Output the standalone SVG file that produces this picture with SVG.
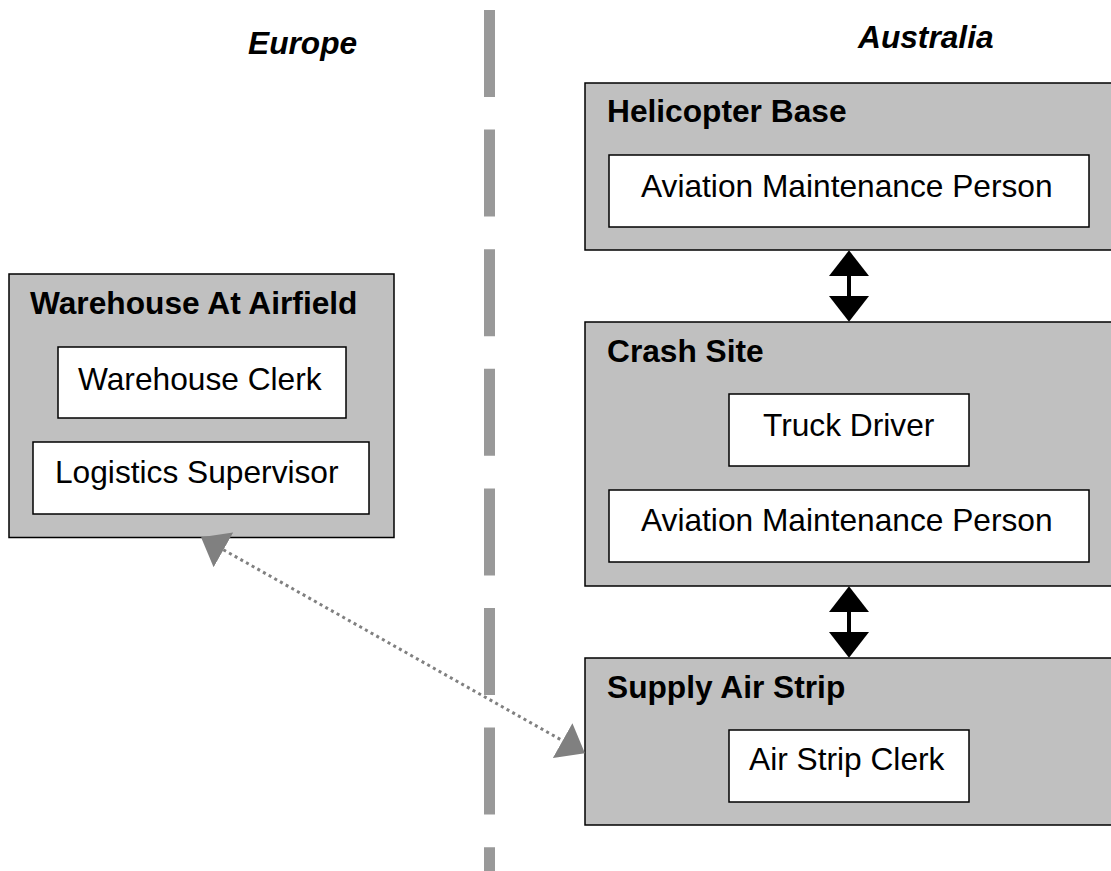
<svg xmlns="http://www.w3.org/2000/svg" width="1111" height="871" viewBox="0 0 1111 871">
  <style>
    text { font-family: "Liberation Sans", Arial, sans-serif; font-size: 31.7px; fill: #000; }
    .title { font-weight: bold; }
    .region { font-weight: bold; font-style: italic; }
    .site { fill: #c0c0c0; stroke: #000; stroke-width: 1.5; }
    .role { fill: #fff; stroke: #000; stroke-width: 1.5; }
    .divider { stroke: #999; stroke-width: 11; stroke-dasharray: 87 32.6; fill: none; }
    .link { stroke: #000; stroke-width: 4; fill: none; }
    .remote { stroke: #808080; stroke-width: 3; stroke-dasharray: 3 3.5; fill: none; }
  </style>
  <defs>
    <marker id="headBlack" markerUnits="userSpaceOnUse" markerWidth="26" markerHeight="40" viewBox="0 0 25 39" refX="0" refY="19.5" orient="auto-start-reverse">
      <path d="M0,0 L25,19.5 L0,39 z" fill="#000"/>
    </marker>
    <marker id="headGrey" markerUnits="userSpaceOnUse" markerWidth="26" markerHeight="40" viewBox="0 0 25 39" refX="0" refY="19.5" orient="auto-start-reverse">
      <path d="M0,0 L25,19.5 L0,39 z" fill="#808080"/>
    </marker>
  </defs>

  <rect width="1111" height="871" fill="#fff"/>

  <!-- region divider and labels -->
  <line class="divider" x1="489.5" y1="10" x2="489.5" y2="871"/>
  <text class="region" x="248" y="54">Europe</text>
  <text class="region" x="858" y="48">Australia</text>

  <g id="warehouse">
    <rect class="site" x="9" y="274" width="385" height="263.5"/>
    <text class="title" x="30" y="314">Warehouse At Airfield</text>
    <g id="warehouse-clerk">
      <rect class="role" x="58" y="347" width="288" height="71"/>
      <text x="78" y="390">Warehouse Clerk</text>
    </g>
    <g id="logistics-supervisor">
      <rect class="role" x="33" y="442" width="336" height="72"/>
      <text x="55" y="483">Logistics Supervisor</text>
    </g>
  </g>

  <g id="helicopter-base">
    <rect class="site" x="585" y="83" width="540" height="167"/>
    <text class="title" x="607" y="122">Helicopter Base</text>
    <g id="heli-maintenance">
      <rect class="role" x="609" y="155" width="480" height="72"/>
      <text x="641" y="197">Aviation Maintenance Person</text>
    </g>
  </g>

  <g id="crash-site">
    <rect class="site" x="585" y="322" width="540" height="264"/>
    <text class="title" x="607" y="362">Crash Site</text>
    <g id="truck-driver">
      <rect class="role" x="729" y="394" width="240" height="72"/>
      <text x="763" y="436">Truck Driver</text>
    </g>
    <g id="crash-maintenance">
      <rect class="role" x="609" y="490" width="480" height="72"/>
      <text x="641" y="531">Aviation Maintenance Person</text>
    </g>
  </g>

  <g id="supply-air-strip">
    <rect class="site" x="585" y="658" width="540" height="167"/>
    <text class="title" x="607" y="698">Supply Air Strip</text>
    <g id="air-strip-clerk">
      <rect class="role" x="729" y="730" width="240" height="72"/>
      <text x="749" y="770">Air Strip Clerk</text>
    </g>
  </g>

  <g id="connectors">
    <line class="link" x1="849" y1="276" x2="849" y2="296" marker-start="url(#headBlack)" marker-end="url(#headBlack)"/>
    <line class="link" x1="849" y1="612" x2="849" y2="632" marker-start="url(#headBlack)" marker-end="url(#headBlack)"/>
    <line class="remote" x1="223.4" y1="549.8" x2="562.6" y2="740.7" marker-start="url(#headGrey)" marker-end="url(#headGrey)"/>
  </g>
</svg>
